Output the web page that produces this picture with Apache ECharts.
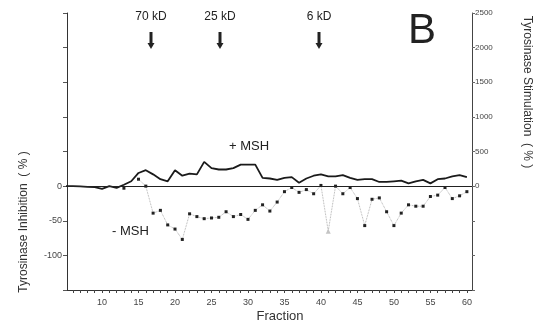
<!DOCTYPE html>
<html>
<head>
<meta charset="utf-8">
<script src="https://cdn.jsdelivr.net/npm/echarts@6/dist/echarts.min.js"></script>
<style>
  html, body { margin: 0; padding: 0; background: #fff; }
  #chart { width: 545px; height: 326px; }
</style>
</head>
<body>
<div id="chart"></div>
<script>
// fractions collected
const fractions = [5, 6, 7, 8, 9, 10, 11, 12, 13, 14, 15, 16, 17, 18, 19, 20,
  21, 22, 23, 24, 25, 26, 27, 28, 29, 30, 31, 32, 33, 34, 35, 36, 37, 38, 39, 40,
  41, 42, 43, 44, 45, 46, 47, 48, 49, 50, 51, 52, 53, 54, 55, 56, 57, 58, 59, 60];

// + MSH (solid line)
const plusMsh = [0, 0, -0.5, -1, -1.5, -4, 0, -2.5, 2, 7, 19, 23, 17, 10, 7, 23,
  15, 18, 17, 35, 26, 24, 24, 26, 31, 31, 31, 12, 11, 9, 12, 13, 5, 11, 15, 17,
  14, 14, 16, 12, 9, 10, 10, 6, 6, 7, 8, 4, 7, 9, 4, 10, 11, 14, 16, 13];

// - MSH (dots)
const minusMsh = [null, null, null, null, null, null, null, null, -3, null, 10, 0, -39, -35, -56, -62,
  -77, -40, -44, -47, -46, -45, -37, -44, -41, -48, -35, -27, -36, -23, -8, -2, -9, -5, -11, 1,
  -65, 0, -11, -2, -18, -57, -19, -17, -37, -57, -39, -27, -29, -29, -15, -13, -2, -18, -14, -8];

const faintFraction = 41;

const fractionLabels = [10, 15, 20, 25, 30, 35, 40, 45, 50, 55, 60];
const fractionTicks = [6, 7, 8, 9, 10, 11, 12, 13, 14, 15, 16, 17, 18, 19, 20,
  21, 22, 23, 24, 25, 26, 27, 28, 29, 30, 31, 32, 33, 34, 35, 36, 37, 38, 39, 40,
  41, 42, 43, 44, 45, 46, 47, 48, 49, 50, 51, 52, 53, 54, 55, 56, 57, 58, 59, 60];
const inhibitionLabels = [0, -50, -100];
const stimulationLabels = [0, 500, 1000, 1500, 2000, 2500];

const markers = [
  { label: '70 kD', x: 151 },
  { label: '25 kD', x: 220 },
  { label: '6 kD', x: 319 },
];

const font = '"Liberation Sans", Arial, sans-serif';
const ink = '#222';

const chart = echarts.init(document.getElementById('chart'));

const arrowGraphics = [];
markers.forEach((m) => {
  arrowGraphics.push({
    type: 'text',
    x: m.x,
    y: 17,
    style: {
      text: m.label, font: '12px ' + font, fill: ink,
      align: 'center', verticalAlign: 'middle',
    },
  });
  arrowGraphics.push({
    type: 'rect',
    shape: { x: m.x - 1.5, y: 32, width: 3, height: 12 },
    style: { fill: ink },
  });
  arrowGraphics.push({
    type: 'polygon',
    shape: { points: [[m.x - 3.5, 43], [m.x + 3.5, 43], [m.x, 49]] },
    style: { fill: ink },
  });
});

chart.setOption({
  animation: false,
  backgroundColor: '#fff',
  grid: { left: 67, right: 73, top: 13, bottom: 36 },
  xAxis: {
    type: 'value',
    min: 5.2,
    max: 60.7,
    axisLine: { onZero: false, lineStyle: { color: '#333', width: 1 } },
    axisTick: { show: true, customValues: fractionTicks, length: 3, lineStyle: { color: '#444', width: 1 } },
    axisLabel: {
      customValues: fractionLabels,
      fontSize: 9, fontFamily: font, color: '#444', margin: 8,
    },
    splitLine: { show: false },
  },
  yAxis: [
    {
      type: 'value',
      min: -150,
      max: 250,
      interval: 50,
      position: 'left',
      axisLine: { show: true, onZero: false, lineStyle: { color: '#333', width: 1 } },
      axisTick: { show: true, length: 4, lineStyle: { color: '#555' } },
      axisLabel: {
        customValues: inhibitionLabels,
        fontSize: 9, fontFamily: font, color: '#444', margin: 5,
      },
      splitLine: { show: false },
    },
    {
      type: 'value',
      min: -1500,
      max: 2500,
      interval: 500,
      position: 'right',
      axisLine: { show: true, onZero: false, lineStyle: { color: '#444', width: 1 } },
      axisTick: { show: true, length: 3, lineStyle: { color: '#666' } },
      axisLabel: {
        customValues: stimulationLabels,
        formatter: (v) => String(v),
        fontSize: 8, fontFamily: font, color: '#444', margin: 3,
      },
      splitLine: { show: false },
    },
  ],
  series: [
    {
      name: '+ MSH',
      type: 'line',
      yAxisIndex: 0,
      data: fractions.map((f, i) => [f, plusMsh[i]]),
      showSymbol: false,
      lineStyle: { color: '#1a1a1a', width: 1.8 },
      markLine: {
        silent: true,
        symbol: 'none',
        label: { show: false },
        lineStyle: { color: '#222', width: 1, type: 'solid' },
        data: [{ yAxis: 0 }],
      },
    },
    {
      name: '- MSH',
      type: 'line',
      yAxisIndex: 0,
      data: fractions.map((f, i) => {
        const item = { value: [f, minusMsh[i]] };
        if (f === faintFraction) {
          item.symbol = 'triangle';
          item.symbolSize = 5;
          item.itemStyle = { color: '#c4c4c4' };
        }
        return item;
      }),
      connectNulls: false,
      symbol: 'rect',
      symbolSize: 3,
      itemStyle: { color: '#222' },
      lineStyle: { color: '#999', width: 0.8, type: 'dotted' },
    },
  ],
  graphic: [
    ...arrowGraphics,
    {
      type: 'text', x: 422, y: 31,
      style: { text: 'B', font: '42px ' + font, fill: ink, align: 'center', verticalAlign: 'middle' },
    },
    {
      type: 'text', x: 229, y: 146,
      style: { text: '+ MSH', font: '13px ' + font, fill: ink, align: 'left', verticalAlign: 'middle' },
    },
    {
      type: 'text', x: 112, y: 231,
      style: { text: '- MSH', font: '13px ' + font, fill: ink, align: 'left', verticalAlign: 'middle' },
    },
    {
      type: 'text', x: 24, y: 222, rotation: Math.PI / 2,
      style: { text: 'Tyrosinase Inhibition  ( % )', font: '12px ' + font, fill: '#333', align: 'center', verticalAlign: 'middle' },
    },
    {
      type: 'text', x: 527, y: 92, rotation: -Math.PI / 2,
      style: { text: 'Tyrosinase Stimulation  ( % )', font: '12px ' + font, fill: '#333', align: 'center', verticalAlign: 'middle' },
    },
    {
      type: 'text', x: 280, y: 316,
      style: { text: 'Fraction', font: '13px ' + font, fill: '#333', align: 'center', verticalAlign: 'middle' },
    },
  ],
});

window.addEventListener('resize', () => chart.resize());
</script>
</body>
</html>
